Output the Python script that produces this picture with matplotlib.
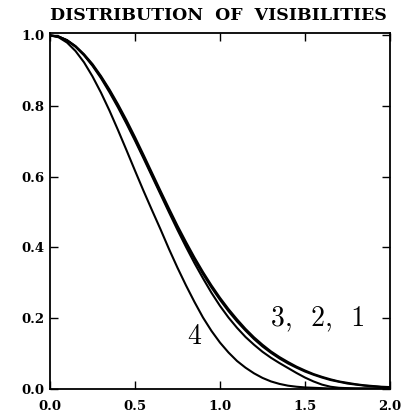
import matplotlib
matplotlib.use("Agg")
import matplotlib.pyplot as plt
from matplotlib.font_manager import FontProperties

# Baseline (units of the x axis) and normalised visibility for four models
baseline = [0.00, 0.05, 0.10, 0.15, 0.20, 0.25, 0.30, 0.35, 0.40, 0.45, 0.50,
            0.55, 0.60, 0.65, 0.70, 0.75, 0.80, 0.85, 0.90, 0.95, 1.00,
            1.05, 1.10, 1.15, 1.20, 1.25, 1.30, 1.35, 1.40, 1.45, 1.50,
            1.55, 1.60, 1.65, 1.70, 1.75, 1.80, 1.85, 1.90, 1.95, 2.00]

vis_1 = [1.000, 0.997, 0.987, 0.970, 0.947, 0.919, 0.885, 0.847, 0.805, 0.760, 0.712,
         0.662, 0.611, 0.560, 0.510, 0.461, 0.415, 0.371, 0.330, 0.292, 0.257,
         0.225, 0.196, 0.169, 0.145, 0.124, 0.105, 0.089, 0.075, 0.062, 0.051,
         0.041, 0.033, 0.026, 0.020, 0.016, 0.012, 0.009, 0.007, 0.005, 0.004]
vis_2 = [1.000, 0.997, 0.986, 0.969, 0.945, 0.916, 0.882, 0.843, 0.800, 0.754, 0.706,
         0.656, 0.605, 0.554, 0.504, 0.455, 0.409, 0.365, 0.324, 0.286, 0.251,
         0.219, 0.190, 0.164, 0.140, 0.119, 0.101, 0.085, 0.071, 0.059, 0.048,
         0.039, 0.031, 0.024, 0.019, 0.014, 0.011, 0.008, 0.006, 0.004, 0.003]
vis_3 = [1.000, 0.997, 0.986, 0.968, 0.944, 0.914, 0.879, 0.839, 0.796, 0.750, 0.702,
         0.652, 0.601, 0.550, 0.499, 0.449, 0.401, 0.355, 0.312, 0.271, 0.234,
         0.201, 0.172, 0.146, 0.124, 0.104, 0.087, 0.072, 0.058, 0.044, 0.031,
         0.020, 0.011, 0.005, 0.002, 0.001, 0.000, 0.000, 0.000, 0.000, 0.000]
vis_4 = [1.000, 0.995, 0.980, 0.956, 0.924, 0.884, 0.838, 0.787, 0.732, 0.675, 0.617,
         0.560, 0.505, 0.451, 0.395, 0.342, 0.292, 0.245, 0.201, 0.163, 0.130,
         0.102, 0.078, 0.059, 0.043, 0.030, 0.020, 0.013, 0.008, 0.005, 0.003,
         0.002, 0.001, 0.000, 0.000, 0.000, 0.000, 0.000, 0.000, 0.000, 0.000]

x_ticks = [0.0, 0.5, 1.0, 1.5, 2.0]
y_ticks = [0.0, 0.2, 0.4, 0.6, 0.8, 1.0]

title = "DISTRIBUTION  OF  VISIBILITIES"
label_123 = "3,  2,  1"
label_4 = "4"

fig = plt.figure(figsize=(4.03, 4.20), dpi=100)
ax = fig.add_axes([50 / 403, 31.5 / 420, 340 / 403, 355.5 / 420])

for v in (vis_1, vis_2, vis_3, vis_4):
    ax.plot(baseline, v, color="black", lw=1.5, solid_joinstyle="round",
            solid_capstyle="butt")

ax.set_xlim(0.0, 2.0)
ax.set_ylim(0.0, 1.007)
ax.set_xticks(x_ticks)
ax.set_yticks(y_ticks)
ax.set_xticklabels([f"{t:.1f}" for t in x_ticks])
ax.set_yticklabels([f"{t:.1f}" for t in y_ticks])

tick_fp = FontProperties(family="DejaVu Serif", weight="bold", size=9.5)
for lab in ax.get_xticklabels() + ax.get_yticklabels():
    lab.set_fontproperties(tick_fp)

ax.tick_params(direction="in", length=6, width=1.0, top=True, right=True,
               color="black")
ax.tick_params(axis="x", pad=8)
ax.tick_params(axis="y", pad=4)
for s in ax.spines.values():
    s.set_linewidth(1.3)

ax.text(1.58, 0.20, label_123, fontsize=20, family="cmr10",
        ha="center", va="center")
ax.text(0.85, 0.145, label_4, fontsize=20, family="cmr10",
        ha="center", va="center")

fig.text(218.5 / 403, 1 - 15 / 420, title, ha="center", va="center",
         family="DejaVu Serif", weight="bold", fontsize=12.5)

fig.savefig("out.png", dpi=100)
